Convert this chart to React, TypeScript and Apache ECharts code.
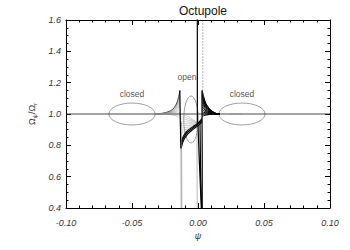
import React, { useEffect, useRef } from "react";
import * as echarts from "echarts";

// axis ranges / ticks
const xRange = [-0.1, 0.1];
const xStep = 0.05;
const yRange = [0.4, 1.6];
const yStep = 0.2;

// horizontal reference line at 1.0
const baseline = [[-0.1, 1.0], [0.1, 1.0]];
const ellipseMark = [[0.0242, 1.0], [0.0333, 1.0]];

// ellipses: [centre psi, centre y, half width, half height]
const ellipses = [
  [-0.05, 1.0, 0.0175, 0.07],
  [0.0333, 1.0, 0.0175, 0.07],
  [-0.0053, 0.965, 0.0055, 0.15],
];

// annotation labels: [psi, y, text]
const notes: [number, number, string][] = [
  [-0.05, 1.128, "closed"],
  [-0.0083, 1.236, "open"],
  [0.0333, 1.128, "closed"],
];

// left fan (grey), shared psi positions
const leftFanX = [-0.032, -0.026, -0.021, -0.018, -0.016, -0.0148, -0.0136];
const leftFanY = [
  [1.0, 1.006, 1.0195, 1.0405, 1.0705, 1.105, 1.15],
  [1.0, 1.0052, 1.0169, 1.0351, 1.0611, 1.091, 1.13],
  [1.0, 1.0044, 1.0143, 1.0297, 1.0517, 1.077, 1.11],
  [1.0, 1.0036, 1.0117, 1.0243, 1.0423, 1.063, 1.09],
  [1.0, 1.0028, 1.0091, 1.0189, 1.0329, 1.049, 1.07],
  [1.0, 1.002, 1.0065, 1.0135, 1.0235, 1.035, 1.05],
  [1.0, 1.0012, 1.0039, 1.0081, 1.0141, 1.021, 1.03],
  [1.0, 1.0004, 1.0013, 1.0027, 1.0047, 1.007, 1.01],
  [1.0, 0.9996, 0.9987, 0.9973, 0.9953, 0.993, 0.99],
  [1.0, 0.9988, 0.9961, 0.9919, 0.9859, 0.979, 0.97],
];

// right fan (black), shared psi positions
const rightFanX = [0.0032, 0.0045, 0.006, 0.0085, 0.011, 0.0135, 0.0165];
const rightFanY = [
  [1.15, 1.105, 1.0675, 1.036, 1.0165, 1.0045, 1.0],
  [1.135, 1.0945, 1.061, 1.032, 1.015, 1.004, 1.0],
  [1.12, 1.084, 1.054, 1.029, 1.013, 1.004, 1.0],
  [1.105, 1.0735, 1.047, 1.025, 1.0115, 1.003, 1.0],
  [1.09, 1.063, 1.0405, 1.0216, 1.01, 1.0027, 1.0],
  [1.075, 1.0525, 1.034, 1.018, 1.008, 1.002, 1.0],
  [1.06, 1.042, 1.027, 1.0144, 1.0066, 1.0018, 1.0],
  [1.045, 1.0315, 1.02, 1.011, 1.005, 1.0014, 1.0],
  [1.03, 1.021, 1.0135, 1.007, 1.0033, 1.001, 1.0],
  [1.015, 1.0105, 1.007, 1.0036, 1.0017, 1.0005, 1.0],
  [1.0, 1.0, 1.0, 1.0, 1.0, 1.0, 1.0],
  [0.985, 0.9895, 0.993, 0.9964, 0.9983, 0.9995, 1.0],
];

// middle grey hatch
const midX = [-0.0128, -0.008, -0.004, 0.0];
const midY = [
  [1.0, 0.985, 0.965, 0.945],
  [0.985, 0.973, 0.958, 0.942],
  [0.97, 0.962, 0.952, 0.94],
  [0.955, 0.95, 0.944, 0.937],
  [0.94, 0.938, 0.937, 0.935],
  [0.925, 0.927, 0.929, 0.932],
  [0.91, 0.915, 0.922, 0.93],
  [0.895, 0.904, 0.915, 0.927],
  [0.88, 0.893, 0.908, 0.925],
];

// middle black band
const bandX = [-0.0128, -0.011, -0.008, -0.004, 0.0, 0.003];
const bandY = [
  [0.78, 0.83, 0.87, 0.9, 0.925, 0.95],
  [0.8, 0.845, 0.882, 0.91, 0.935, 0.96],
  [0.82, 0.86, 0.893, 0.918, 0.942, 0.97],
];

// vertical strands
const blackVerticals = [
  [[-0.0138, 1.15], [-0.0134, 0.95], [-0.013, 0.78]],
  [[-0.0005, 1.7], [-0.0005, 0.93]],
  [[0.0, 0.93], [0.001, 0.7], [0.0025, 0.4]],
  [[0.003, 1.15], [0.0032, 0.7], [0.0032, 0.4]],
  [[0.0015, 0.95], [0.002, 0.6], [0.0028, 0.4]],
];
const greyVerticals = [
  [[-0.013, 0.78], [-0.0128, 0.4]],
  [[-0.0125, 0.95], [-0.0122, 0.4]],
  [[-0.0008, 0.92], [-0.0006, 0.4]],
];
const dottedSpike = [[0.0036, 1.15], [0.0036, 1.7]];

const FONT = "Liberation Sans";

function zip(xs: number[], ys: number[]) {
  return xs.map((x, i) => [x, ys[i]]);
}

function lineSeries(data: number[][], color: string, width: number, type: any = "solid", smooth: number = 0.3) {
  return {
    type: "line",
    data,
    showSymbol: false,
    symbol: "none",
    smooth,
    silent: true,
    lineStyle: { color, width, type },
    xAxisIndex: 0,
    yAxisIndex: 0,
  };
}

export default function App() {
  const ref = useRef<HTMLDivElement>(null);
  useEffect(() => {
    if (!ref.current) return;
    const chart = echarts.init(ref.current, null, { renderer: "svg" });
    const tickCommon = { show: true, inside: true, length: 5, lineStyle: { color: "#000", width: 1 } };
    const minor = (n: number) => ({ show: true, splitNumber: n, length: 2.5, lineStyle: { color: "#000", width: 1 } });
    const lineCommon = { show: true, onZero: false, lineStyle: { color: "#000", width: 1 } };
    const labelCommon = {
      fontStyle: "italic",
      fontSize: 9,
      color: "#333",
      fontFamily: FONT,
    };
    const series: any[] = [];
    series.push(lineSeries(baseline, "#333", 0.9, "solid", 0));
    series.push(lineSeries(ellipseMark, "#999", 1.6, "solid", 0));
    leftFanY.forEach((ys, i) => series.push(lineSeries(zip(leftFanX, ys), i === 0 ? "#111" : "#888", i === 0 ? 0.9 : 0.45)));
    midY.forEach((ys) => series.push(lineSeries(zip(midX, ys), "#999", 0.45)));
    bandY.forEach((ys) => series.push(lineSeries(zip(bandX, ys), "#000", 1.1)));
    rightFanY.forEach((ys) => series.push(lineSeries(zip(rightFanX, ys), "#000", 1)));
    blackVerticals.forEach((c) => series.push(lineSeries(c, "#000", 1.2, "solid", 0)));
    greyVerticals.forEach((c) => series.push(lineSeries(c, "#888", 0.6, "solid", 0)));
    series.push(lineSeries(dottedSpike, "#222", 0.7, [1, 2], 0));
    series.push({
      type: "custom",
      silent: true,
      data: ellipses,
      encode: { x: 0, y: 1 },
      xAxisIndex: 0,
      yAxisIndex: 0,
      renderItem: (params: any, api: any) => {
        const c = api.coord([api.value(0), api.value(1)]);
        const s = api.size([api.value(2), api.value(3)]);
        return {
          type: "ellipse",
          shape: { cx: c[0], cy: c[1], rx: s[0], ry: s[1] },
          style: { fill: "none", stroke: "#888", lineWidth: 0.8 },
        };
      },
    });
    series.push({
      type: "scatter",
      silent: true,
      symbolSize: 0,
      xAxisIndex: 0,
      yAxisIndex: 0,
      data: notes.map((n) => ({ value: [n[0], n[1]], name: n[2] })),
      label: {
        show: true,
        position: "inside",
        formatter: (p: any) => p.name,
        fontSize: 8.5,
        color: "#222",
        fontFamily: FONT,
      },
    });

    chart.setOption({
      animation: false,
      backgroundColor: "#fff",
      title: {
        text: "Octupole",
        left: 174,
        top: 0,
        textStyle: { fontSize: 12, fontWeight: "normal", color: "#111", fontFamily: FONT },
      },
      grid: { left: 66, right: 20, top: 20, bottom: 42 },
      xAxis: [
        {
          type: "value",
          min: xRange[0],
          max: xRange[1],
          interval: xStep,
          position: "bottom",
          axisLine: lineCommon,
          axisTick: tickCommon,
          minorTick: minor(5),
          splitLine: { show: false },
          minorSplitLine: { show: false },
          axisLabel: { ...labelCommon, margin: 10, formatter: (v: number) => v.toFixed(2) },
          name: "ψ",
          nameLocation: "middle",
          nameGap: 20,
          nameTextStyle: { ...labelCommon, fontSize: 9 },
        },
        {
          type: "value",
          min: xRange[0],
          max: xRange[1],
          interval: xStep,
          position: "top",
          axisLine: lineCommon,
          axisTick: tickCommon,
          minorTick: minor(5),
          splitLine: { show: false },
          axisLabel: { show: false },
        },
      ],
      yAxis: [
        {
          type: "value",
          min: yRange[0],
          max: yRange[1],
          interval: yStep,
          position: "left",
          axisLine: lineCommon,
          axisTick: tickCommon,
          minorTick: minor(4),
          splitLine: { show: false },
          axisLabel: { ...labelCommon, margin: 5, formatter: (v: number) => v.toFixed(1) },
          name: "{a|Ω}{s|ψ}{a|/Ω}{s|r}",
          nameLocation: "middle",
          nameRotate: 90,
          nameGap: 22,
          nameTextStyle: {
            color: "#333",
            fontFamily: FONT,
            rich: {
              a: { fontSize: 9, color: "#333", fontFamily: FONT },
              s: { fontSize: 6, color: "#333", fontFamily: FONT, verticalAlign: "bottom", padding: [5, 0, 0, 0] },
            },
          },
        },
        {
          type: "value",
          min: yRange[0],
          max: yRange[1],
          interval: yStep,
          position: "right",
          axisLine: lineCommon,
          axisTick: tickCommon,
          minorTick: minor(4),
          splitLine: { show: false },
          axisLabel: { show: false },
        },
      ],
      series,
    });
    return () => chart.dispose();
  }, []);
  return <div ref={ref} style={{ position: "fixed", left: 0, top: 0, width: 350, height: 250, background: "#fff" }} />;
}
